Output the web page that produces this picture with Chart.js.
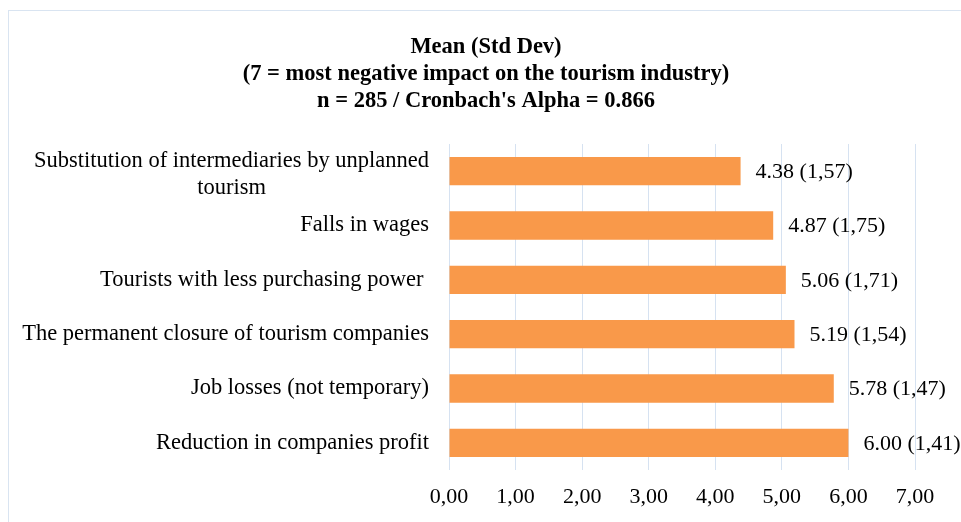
<!DOCTYPE html>
<html>
<head>
<meta charset="utf-8">
<script src="https://cdn.jsdelivr.net/npm/chart.js@4.4.1/dist/chart.umd.min.js"></script>
<style>
  html, body { margin: 0; padding: 0; background: #fff; overflow: hidden; }
  #wrap { position: relative; width: 961px; height: 522px; }
  #frame {
    position: absolute; left: 8px; top: 10px; width: 1000px; height: 600px;
    border: 1px solid #d9e4f1; box-sizing: border-box;
  }
  canvas { position: absolute; left: 0; top: 0; }
</style>
</head>
<body>
<div id="wrap">
  <div id="frame"></div>
  <canvas id="chart" width="961" height="522"></canvas>
</div>
<script>
const categories = [
  ["Substitution of intermediaries by unplanned", "tourism"],
  "Falls in wages",
  "Tourists with less purchasing power ",
  "The permanent closure of tourism companies",
  "Job losses (not temporary)",
  "Reduction in companies profit"
];
const means = [4.38, 4.87, 5.06, 5.19, 5.78, 6.00];
const stdDevs = [1.57, 1.75, 1.71, 1.54, 1.47, 1.41];
const xTickLabels = ["0,00", "1,00", "2,00", "3,00", "4,00", "5,00", "6,00", "7,00"];
const titleLines = [
  "Mean (Std Dev)",
  "(7 = most negative impact on the tourism industry)",
  "n = 285 / Cronbach's Alpha = 0.866"
];

const SERIF = '"Liberation Serif", "Times New Roman", serif';

document.addEventListener("DOMContentLoaded", () => {
  /* ---- title, category labels and value labels ---- */
  const textPlugin = {
    id: "textPlugin",
    afterDatasetsDraw(chart) {
      const ctx = chart.ctx;
      ctx.save();
      ctx.fillStyle = "#000";
      ctx.textBaseline = "middle";

      // title
      ctx.font = "bold 22.5px " + SERIF;
      ctx.textAlign = "center";
      titleLines.forEach((line, i) => {
        ctx.fillText(line, 486, 47 + i * 27);
      });

      // category labels (multi-line ones centred like Excel)
      const yScale = chart.scales.y;
      const rightX = yScale.right - 20;
      ctx.font = "22.5px " + SERIF;
      categories.forEach((lab, i) => {
        const y = yScale.getPixelForValue(i);
        if (Array.isArray(lab)) {
          const maxW = Math.max(...lab.map(l => ctx.measureText(l).width));
          ctx.textAlign = "center";
          const lh = 27;
          const y0 = y + 3 - (lab.length - 1) * lh / 2;
          lab.forEach((l, j) => ctx.fillText(l, rightX - maxW / 2, y0 + j * lh));
        } else {
          ctx.textAlign = "right";
          ctx.fillText(lab, rightX, y);
        }
      });

      // value labels
      ctx.font = "22px " + SERIF;
      ctx.textAlign = "left";
      const meta = chart.getDatasetMeta(0);
      meta.data.forEach((bar, i) => {
        const txt = means[i].toFixed(2) + " (" + stdDevs[i].toFixed(2).replace(".", ",") + ")";
        ctx.fillText(txt, bar.x + 15, bar.y + 1);
      });
      ctx.restore();
    }
  };

  const ctx = document.getElementById("chart");
  new Chart(ctx, {
    type: "bar",
    data: {
      labels: categories,
      datasets: [{
        data: means,
        backgroundColor: "#f9994a",
        barPercentage: 0.52,
        categoryPercentage: 1
      }]
    },
    options: {
      indexAxis: "y",
      responsive: false,
      animation: false,
      layout: { padding: { top: 144, right: 46, bottom: 12, left: 0 } },
      plugins: {
        legend: { display: false },
        title: { display: false },
        tooltip: { enabled: false }
      },
      scales: {
        x: {
          min: 0,
          max: 7,
          ticks: {
            stepSize: 1,
            padding: 14,
            color: "#000",
            font: { family: SERIF, size: 22 },
            callback: (v, i) => xTickLabels[i]
          },
          grid: { color: "#d6e2f1", lineWidth: 1, drawTicks: false },
          border: { display: false },
          afterFit: (scale) => { scale.height = 40; }
        },
        y: {
          ticks: { display: false },
          grid: { display: false },
          border: { display: false },
          afterFit: (scale) => { scale.width = 449; }
        }
      }
    },
    plugins: [textPlugin]
  });
});
</script>
</body>
</html>
